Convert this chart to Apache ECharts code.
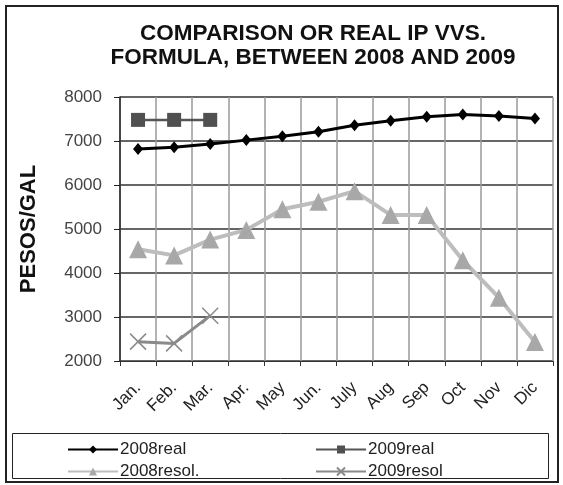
<!DOCTYPE html>
<html>
<head>
<meta charset="utf-8">
<script src="https://cdn.jsdelivr.net/npm/echarts@6/dist/echarts.min.js"></script>
<style>
  * { margin: 0; padding: 0; }
  body { background: #fff; }
  #chart { width: 563px; height: 485px; }
</style>
</head>
<body>
<div id="chart"></div>
<script>
// months and series
var months = ['Jan.', 'Feb.', 'Mar.', 'Apr.', 'May', 'Jun.', 'July', 'Aug', 'Sep', 'Oct', 'Nov', 'Dic']
var real2008 = [6820, 6860, 6930, 7020, 7110, 7210, 7360, 7460, 7550, 7600, 7570, 7510]
var real2009 = [7480, 7480, 7480]
var resol2008 = [4540, 4400, 4760, 4980, 5450, 5620, 5860, 5320, 5320, 4290, 3440, 2430]
var resol2009 = [2440, 2400, 3030]
var yTicks = { min: 2000, max: 8000, step: 1000 }

var font = 'Liberation Sans, Arial, sans-serif'
var chart = echarts.init(document.getElementById('chart'))

var option = {
  backgroundColor: '#fff',
  animation: false,
  title: {
    text: 'COMPARISON OR REAL IP VVS.\nFORMULA, BETWEEN 2008 AND 2009',
    left: 308,
    textAlign: 'center',
    top: 17,
    textStyle: {
      fontFamily: font,
      fontSize: 22.5,
      fontWeight: 'bold',
      color: '#111',
      lineHeight: 24
    }
  },
  grid: {
    left: 120,
    right: 10,
    top: 97,
    bottom: 124
  },
  legend: [
    {
      orient: 'vertical',
      left: 62,
      top: 436,
      itemWidth: 50,
      itemHeight: 10,
      itemGap: 5,
      data: ['2008real', '2008resol.'],
      textStyle: { fontFamily: font, fontSize: 17, color: '#222', padding: [0, 0, 0, -3] }
    },
    {
      orient: 'vertical',
      left: 310,
      top: 436,
      itemWidth: 50,
      itemHeight: 10,
      itemGap: 5,
      data: ['2009real', '2009resol'],
      textStyle: { fontFamily: font, fontSize: 17, color: '#222', padding: [0, 0, 0, -3] }
    }
  ],
  graphic: [
    {
      type: 'rect',
      shape: { x: 6, y: 6, width: 552, height: 476 },
      style: { fill: 'none', stroke: '#222', lineWidth: 2 },
      silent: true
    },
    {
      type: 'rect',
      shape: { x: 12.5, y: 433.5, width: 536, height: 45 },
      style: { fill: 'none', stroke: '#222', lineWidth: 1 },
      silent: true
    }
  ],
  xAxis: {
    type: 'category',
    data: months,
    boundaryGap: true,
    axisLine: { lineStyle: { color: '#333', width: 1 } },
    axisTick: { show: true, length: 5, lineStyle: { color: '#333' } },
    axisLabel: {
      rotate: 45,
      fontFamily: font,
      fontSize: 17,
      color: '#222',
      margin: 24
    },
    splitLine: { show: true, lineStyle: { color: '#9a9a9a', width: 1.5 } }
  },
  yAxis: {
    type: 'value',
    min: yTicks.min,
    max: yTicks.max,
    interval: yTicks.step,
    name: 'PESOS/GAL',
    nameLocation: 'middle',
    nameGap: 80,
    nameTextStyle: { fontFamily: font, fontSize: 22, fontWeight: 'bold', color: '#111' },
    axisLine: { show: true, lineStyle: { color: '#222', width: 1.5 } },
    axisTick: { show: true, length: 6, lineStyle: { color: '#222' } },
    axisLabel: {
      fontFamily: font,
      fontSize: 17,
      color: '#444',
      margin: 18,
      formatter: function (v) { return String(v) }
    },
    splitLine: { lineStyle: { color: '#333', width: 1.5 } }
  },
  series: [
    {
      name: '2008real',
      type: 'line',
      data: real2008,
      symbol: 'diamond',
      symbolSize: [10, 12],
      lineStyle: { color: '#000', width: 3 },
      itemStyle: { color: '#000' },
      z: 5
    },
    {
      name: '2009real',
      type: 'line',
      data: real2009,
      symbol: 'rect',
      symbolSize: 14,
      lineStyle: { color: '#555', width: 2.5 },
      itemStyle: { color: '#505050' },
      z: 4
    },
    {
      name: '2008resol.',
      type: 'line',
      data: resol2008,
      symbol: 'triangle',
      symbolSize: 18,
      lineStyle: { color: '#bdbdbd', width: 4 },
      itemStyle: { color: '#a8a8a8' },
      z: 3
    },
    {
      name: '2009resol',
      type: 'line',
      data: resol2009,
      symbol: 'path://M0,0L10,10M10,0L0,10',
      symbolSize: 16,
      lineStyle: { color: '#8a8a8a', width: 3 },
      itemStyle: { color: 'rgba(0,0,0,0)', borderColor: '#8a8a8a', borderWidth: 1.5 },
      z: 3
    }
  ]
}

chart.setOption(option)
</script>
</body>
</html>
